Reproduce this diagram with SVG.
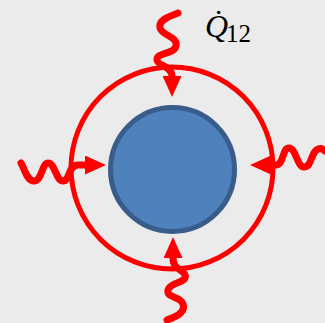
<svg xmlns="http://www.w3.org/2000/svg" width="325" height="323" viewBox="0 0 325 323">
<defs>
<style>
.wave{fill:none;stroke:#ff0000;stroke-width:7;stroke-linecap:round;stroke-linejoin:round}
.ring{fill:none;stroke:#ff0000;stroke-width:5}
.core{fill:#4f81bd;stroke:#385d8a;stroke-width:5}
.lbl{font-family:"Liberation Serif","Times New Roman",serif;fill:#000}
</style>
<marker id="ah" viewBox="0 0 21 19" refX="0" refY="9.5" markerWidth="21" markerHeight="19" markerUnits="userSpaceOnUse" orient="auto">
<path d="M0,0 L21,9.5 L0,19 z" fill="#ff0000"/>
</marker>
</defs>
<rect x="0" y="0" width="325" height="323" fill="#ebebeb"/>
<g id="outer-boundary">
<circle class="ring" cx="172" cy="168" r="101"/>
</g>
<g id="body">
<circle class="core" cx="172.5" cy="169.5" r="62"/>
</g>
<g id="connectors">
<path class="wave" marker-end="url(#ah)" d="M178,13 C170,16 158,20 160,28 C162,36 178,36 176,46 C174,55 156,52 157,60 C158,66 172,66 172,76"/>
<path class="wave" marker-end="url(#ah)" d="M167,320 C175,317 186,313 183,304 C180,296 166,298 168,290 C170,282 188,283 185,275 C183,269 173,270 173,258"/>
<path class="wave" marker-end="url(#ah)" d="M21,163 C25,170 27,181 34,181 C42,181 42,163 48,163 C55,163 56,181 63,181 C70,181 68,165 78,165 L85,165"/>
<path class="wave" marker-end="url(#ah)" d="M325,151 C321,147 316,148 313,155 C310,162 309,167 304,167 C297,167 296,148 289,148 C282,148 284,165 276,165 L271,165"/>
</g>
<g id="label">
<text class="lbl" x="205" y="37" font-size="32" font-style="italic">Q̇</text>
<text class="lbl" x="226" y="42" font-size="25">12</text>
</g>
</svg>
